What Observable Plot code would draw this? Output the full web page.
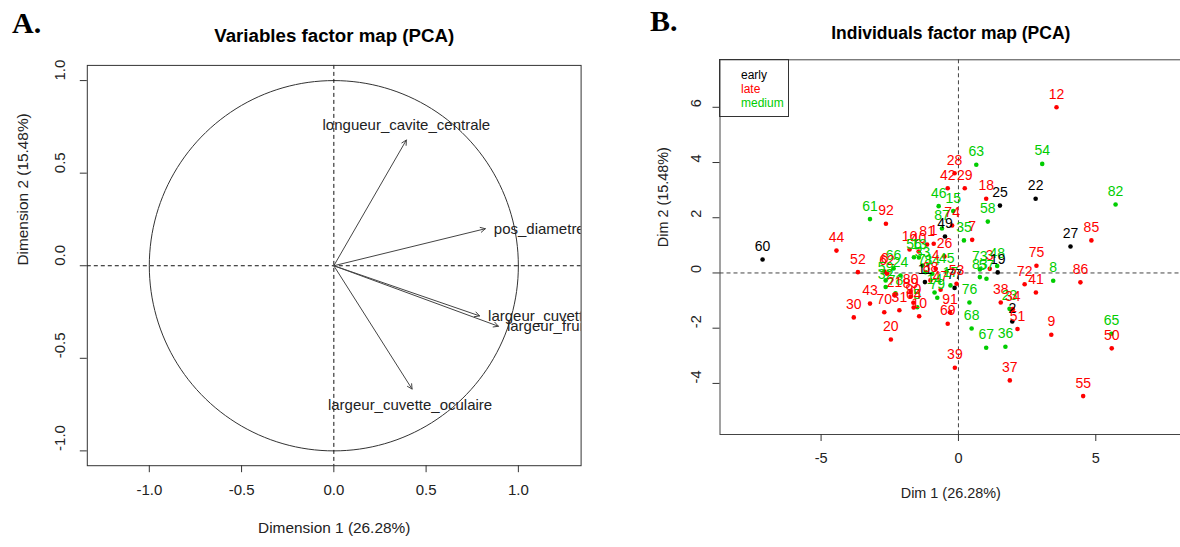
<!DOCTYPE html>
<html><head><meta charset="utf-8">
<script src="https://cdn.jsdelivr.net/npm/d3@7"></script>
<script src="https://cdn.jsdelivr.net/npm/@observablehq/plot@0.6"></script>
<style>
html,body{margin:0;padding:0;overflow:hidden;background:#fff;}
#wrap{position:relative;width:1180px;height:547px;overflow:hidden;background:#fff;font-family:"Liberation Sans",Arial,sans-serif;}
.tag{position:absolute;font-family:"Liberation Serif","Times New Roman",serif;font-weight:bold;font-size:30px;line-height:30px;color:#000;}
#legend{position:absolute;left:719px;top:59px;width:70px;height:58px;box-sizing:border-box;border:1px solid #333;padding:9px 0 0 21px;font-size:12px;line-height:13.8px;}
</style></head>
<body>
<div id="wrap">
  <div id="A" style="position:absolute;left:0;top:0;width:590px;"></div>
  <div id="B" style="position:absolute;left:590px;top:0;width:592px;"></div>
  <div class="tag" style="left:12px;top:8px;">A.</div>
  <div class="tag" style="left:650px;top:6px;">B.</div>
  <div id="legend"></div>
</div>
<script>
// ---------- Panel A: variables ----------
const varNames = ["longueur_cavite_centrale","pos_diametre_max","largeur_cuvette_pedonculaire","largeur_fruit","largeur_cuvette_oculaire"];
const varDim1  = [0.393, 0.821, 0.790, 0.892, 0.424];
const varDim2  = [0.679, 0.200, -0.271, -0.327, -0.666];
const varPos   = ["above","right","right","right","below"];
const ticksA   = [-1.0, -0.5, 0.0, 0.5, 1.0];

// ---------- Panel B: individuals ----------
const groupNames = ["early","late","medium"];
const groupColors = ["#000000","#FF0000","#00CD00"];
const ids = [12,63,54,28,42,29,18,25,22,58,35,7,46,15,87,74,49,61,92,44,52,60,27,85,82,75,8,86,72,41,38,23,34,2,51,9,65,50,55,37,36,67,68,76,39,91,69,73,3,48,19,83,57,43,30,70,20,31,10,77,11,26,81,16,40,1,13,84,45,88,47,4,17,66,6,62,24,59,78,32,80,90,89,5,14,79,21,64,56,33,71,53];
const groups = ["late","medium","medium","late","late","late","late","early","early","medium","medium","late","medium","medium","medium","late","early","medium","late","late","late","early","early","late","medium","late","medium","late","late","late","late","medium","late","early","late","late","medium","late","late","late","medium","medium","medium","medium","late","late","late","medium","late","medium","early","medium","medium","late","late","late","late","late","late","early","early","late","late","late","late","late","medium","medium","medium","late","late","late","medium","medium","late","late","medium","medium","medium","medium","late","late","late","medium","medium","medium","late","late","medium","medium","medium","late"];
const dim1 = [3.57,0.65,3.05,-0.14,-0.39,0.23,1.01,1.51,2.81,1.07,0.20,0.50,-0.72,-0.19,-0.60,-0.23,-0.49,-3.22,-2.64,-4.44,-3.66,-7.13,4.08,4.84,5.72,2.84,3.45,4.44,2.41,2.82,1.54,1.86,1.98,1.96,2.15,3.38,5.57,5.58,4.54,1.87,1.71,1.01,0.48,0.40,-0.13,-0.31,-0.39,0.78,1.14,1.41,1.43,0.78,1.02,-3.22,-3.81,-2.70,-2.46,-2.15,-1.43,-0.14,-1.22,-0.51,-1.14,-1.78,-1.45,-0.90,-1.44,-0.95,-0.43,-1.02,-0.65,-0.83,-0.29,-2.36,-2.69,-2.60,-2.11,-2.65,-2.29,-2.65,-1.74,-1.64,-1.74,-1.50,-0.87,-0.77,-2.33,-1.63,-1.62,-1.31,-1.20,-0.07];
const dim2 = [6.00,3.92,3.95,3.61,3.07,3.07,2.69,2.44,2.69,1.86,1.18,1.20,2.42,2.24,1.61,1.72,1.32,1.95,1.78,0.81,0.03,0.49,0.96,1.18,2.48,0.26,-0.28,-0.34,-0.41,-0.71,-1.07,-1.30,-1.31,-1.76,-2.03,-2.24,-2.20,-2.73,-4.46,-3.89,-2.67,-2.71,-2.01,-1.07,-3.43,-1.42,-1.84,0.13,0.15,0.25,0.02,-0.15,-0.21,-1.11,-1.61,-1.42,-2.41,-1.35,-1.57,-0.54,-0.33,0.60,1.03,0.85,0.78,1.06,0.56,-0.03,0.05,-0.27,-0.61,0.15,-0.45,0.16,0.05,-0.03,-0.09,-0.27,-0.74,-0.51,-0.69,-1.08,-0.85,-1.24,-0.71,-0.90,-0.81,-1.25,0.57,0.27,0.03,-0.39];
const ticksBx = [-5, 0, 5];
const ticksBy = [-4, -2, 0, 2, 4, 6];

const vars = varNames.map((n,i)=>({name:n, x:varDim1[i], y:varDim2[i], pos:varPos[i]}));
const inds = ids.map((id,i)=>({id:String(id), group:groups[i], x:dim1[i], y:dim2[i]}));
const circle = d3.range(0, 361, 2).map(a => ({x: Math.cos(a*Math.PI/180), y: Math.sin(a*Math.PI/180)}));

const font = '"Liberation Sans", Arial, sans-serif';
const baseStyle = {fontFamily: font, fontSize: "14px", background: "transparent", color: "#000", overflow: "visible"};

const plotA = Plot.plot({
  width: 590, height: 547,
  marginLeft: 86.8, marginRight: 9.4, marginTop: 64.9, marginBottom: 81.8,
  x: {domain: [-1.336, 1.340]},
  y: {domain: [-1.080, 1.082]},
  style: baseStyle,
  marks: [
    Plot.line(circle, {x: "x", y: "y", stroke: "#333", strokeWidth: 1}),
    Plot.ruleX([0], {stroke: "#111", strokeDasharray: "4,3"}),
    Plot.ruleY([0], {stroke: "#111", strokeDasharray: "4,3"}),
    Plot.arrow(vars, {x1: 0, y1: 0, x2: "x", y2: "y", stroke: "#444", strokeWidth: 1, headLength: 8, headAngle: 55}),
    Plot.text(vars.filter(d=>d.pos==="above"), {x:"x", y:"y", text:"name", dy:-14.7, fontSize:15, fill:"#222", clip:true}),
    Plot.text(vars.filter(d=>d.pos==="below"), {x:"x", y:"y", text:"name", dy:16.4, dx:-2, fontSize:15, fill:"#222", clip:true}),
    Plot.text(vars.filter(d=>d.pos==="right"), {x:"x", y:"y", text:"name", dx:8.5, textAnchor:"start", fontSize:15, fill:"#222", clip:true}),
    Plot.frame({stroke: "#333"}),
    Plot.axisX({ticks: ticksA, tickSize: 7, tickFormat: () => "", label: null, stroke: "#333"}),
    Plot.axisY({ticks: ticksA, tickSize: 7, tickFormat: () => "", label: null, stroke: "#333"}),
    Plot.text(ticksA, {x: d=>d, text: d=>d.toFixed(1), frameAnchor:"bottom", dy: 28.8, fontSize: 15, fill:"#222"}),
    Plot.text(ticksA, {y: d=>d, text: d=>d.toFixed(1), frameAnchor:"left", dx: -26.8, rotate: -90, fontSize: 15, fill:"#222"}),
    Plot.text(["Variables factor map (PCA)"], {text: d=>d, frameAnchor:"top", dy:-37, fontSize:18.7, fontWeight:"bold", fill:"#000"}),
    Plot.text(["Dimension 1 (26.28%)"], {text: d=>d, frameAnchor:"bottom", dy:66.8, fontSize:15.4, fill:"#222"}),
    Plot.text(["Dimension 2 (15.48%)"], {text: d=>d, frameAnchor:"left", dx:-64.3, rotate:-90, fontSize:15.4, fill:"#222"})
  ]
});
document.getElementById("A").appendChild(plotA);

const plotB = Plot.plot({
  width: 592, height: 547,
  marginLeft: 129.5, marginRight: 1, marginTop: 59.3, marginBottom: 113,
  x: {domain: [-8.68, 8.12]},
  y: {domain: [-5.85, 7.72]},
  color: {domain: groupNames, range: groupColors},
  style: baseStyle,
  marks: [
    Plot.ruleX([0], {stroke: "#444", strokeDasharray: "4,3"}),
    Plot.ruleY([0], {stroke: "#444", strokeDasharray: "4,3"}),
    Plot.dot(inds, {x:"x", y:"y", r:2.3, fill:"group", stroke:null}),
    Plot.text(inds, {x:"x", y:"y", text:"id", fill:"group", dy:-13, fontSize:14}),
    Plot.frame({stroke: "#444"}),
    Plot.axisX({ticks: ticksBx, tickSize: 7, tickFormat: () => "", label: null, stroke: "#333"}),
    Plot.axisY({ticks: ticksBy, tickSize: 7, tickFormat: () => "", label: null, stroke: "#333"}),
    Plot.text(ticksBx, {x: d=>d, text: d=>String(d), frameAnchor:"bottom", dy: 28, fontSize: 14.5, fill:"#222"}),
    Plot.text(ticksBy, {y: d=>d, text: d=>String(d), frameAnchor:"left", dx: -23.5, rotate: -90, fontSize: 14.5, fill:"#222"}),
    Plot.text(["Individuals factor map (PCA)"], {text: d=>d, frameAnchor:"top", dy:-33.3, fontSize:17.5, fontWeight:"bold", fill:"#000"}),
    Plot.text(["Dim 1 (26.28%)"], {text: d=>d, frameAnchor:"bottom", dy:63, fontSize:14.4, fill:"#222"}),
    Plot.text(["Dim 2 (15.48%)"], {text: d=>d, frameAnchor:"left", dx:-56.5, rotate:-90, fontSize:14.4, fill:"#222"})
  ]
});
document.getElementById("B").appendChild(plotB);

const leg = document.getElementById("legend");
groupNames.forEach((g,i)=>{
  const s = document.createElement("div");
  s.textContent = g; s.style.color = groupColors[i];
  leg.appendChild(s);
});
</script>
</body></html>
